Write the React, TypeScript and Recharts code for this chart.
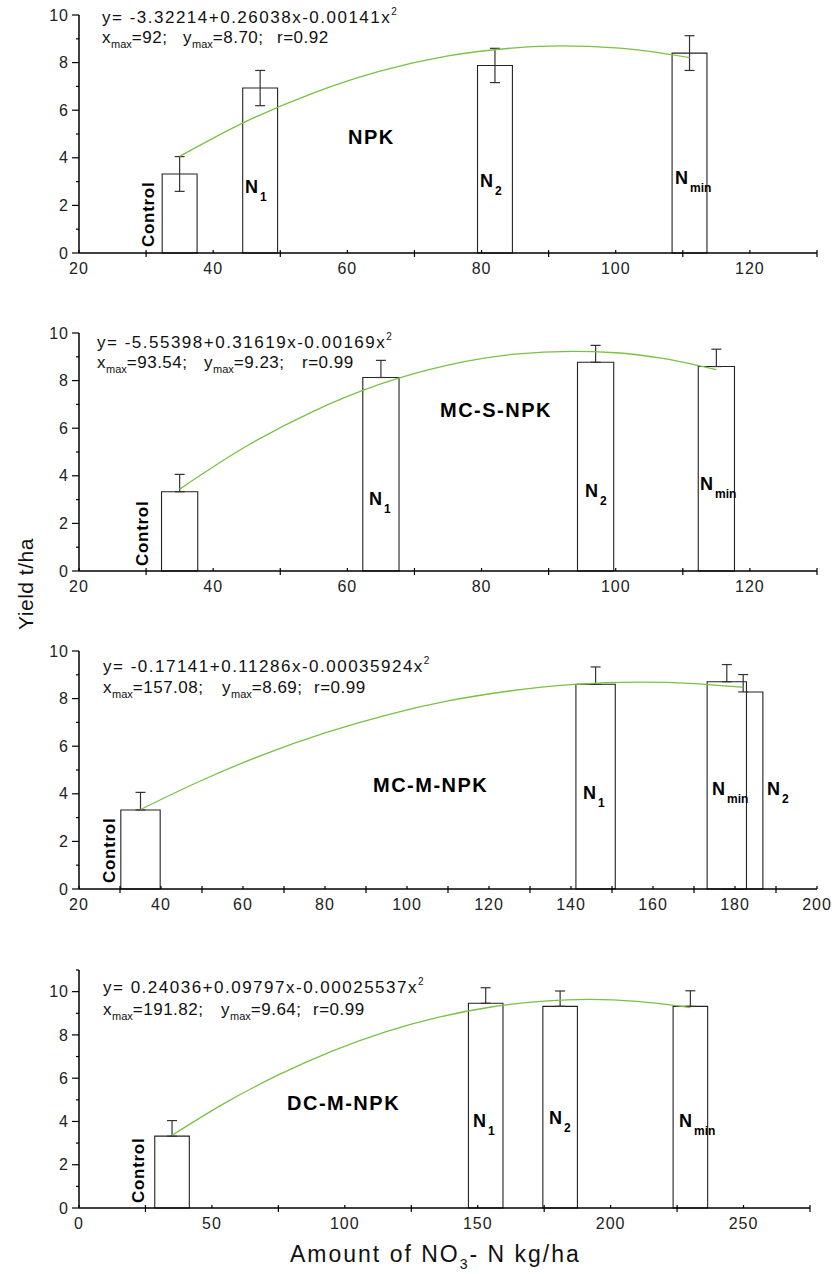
import React from 'react';
import { ComposedChart, XAxis, YAxis, ReferenceArea, Scatter, ErrorBar, Line } from 'recharts';

// NPK
const npkX = [35, 47, 82, 111];
const npkYield = [3.32, 6.93, 7.88, 8.4];
const npkErr = [0.73, 0.74, 0.72, 0.73];
const npkFitX = [35, 45, 55, 65, 75, 85, 92, 100, 105, 111];
const npkFitY = [4.06, 5.54, 6.73, 7.65, 8.28, 8.62, 8.7, 8.62, 8.47, 8.21];

// MC-S-NPK
const mcsX = [35, 65, 97, 115];
const mcsYield = [3.33, 8.13, 8.77, 8.59];
const mcsErr = [0.73, 0.72, 0.71, 0.73];
const mcsFitX = [35, 45, 55, 65, 75, 85, 93.5, 100, 107, 115];
const mcsFitY = [3.44, 5.25, 6.72, 7.86, 8.65, 9.11, 9.23, 9.17, 8.93, 8.46];

// MC-M-NPK (N2 comes before Nmin so Nmin is drawn over it)
const mcmX = [35, 146, 182, 178];
const mcmYield = [3.32, 8.6, 8.28, 8.71];
const mcmErr = [0.74, 0.73, 0.73, 0.72];
const mcmFitX = [35, 50, 65, 80, 95, 110, 125, 140, 157, 170, 182];
const mcmFitY = [3.34, 4.57, 5.65, 6.56, 7.31, 7.9, 8.32, 8.59, 8.69, 8.63, 8.47];

// DC-M-NPK
const dcmX = [35, 153, 181, 230];
const dcmYield = [3.32, 9.46, 9.32, 9.32];
const dcmErr = [0.72, 0.72, 0.71, 0.72];
const dcmFitX = [35, 55, 75, 95, 115, 135, 155, 175, 192, 210, 230];
const dcmFitY = [3.36, 4.86, 6.15, 7.24, 8.13, 8.81, 9.29, 9.56, 9.64, 9.55, 9.26];

// tick labels
const ticks20to130 = [20, 30, 40, 50, 60, 70, 80, 90, 100, 110, 120, 130];
const labels20to120 = [20, 40, 60, 80, 100, 120];
const ticks20to200 = [20, 30, 40, 50, 60, 70, 80, 90, 100, 110, 120, 130, 140, 150, 160, 170, 180, 190, 200];
const labels20to200 = [20, 40, 60, 80, 100, 120, 140, 160, 180, 200];
const ticks0to275 = [0, 25, 50, 75, 100, 125, 150, 175, 200, 225, 250, 275];
const labels0to250 = [0, 50, 100, 150, 200, 250];
const yTicks10 = [0, 1, 2, 3, 4, 5, 6, 7, 8, 9, 10];
const yTicks11 = [0, 1, 2, 3, 4, 5, 6, 7, 8, 9, 10, 11];
const yLabels = [0, 2, 4, 6, 8, 10];

// texts
const treatments = ['NPK', 'MC-S-NPK', 'MC-M-NPK', 'DC-M-NPK'];
const equations = [
  'y= -3.32214+0.26038x-0.00141x',
  'y= -5.55398+0.31619x-0.00169x',
  'y= -0.17141+0.11286x-0.00035924x',
  'y= 0.24036+0.09797x-0.00025537x',
];
const xMaxVals = ['92', '93.54', '157.08', '191.82'];
const yMaxVals = ['8.70', '9.23', '8.69', '9.64'];
const rVals = ['0.92', '0.99', '0.99', '0.99'];

const FONT = '"Liberation Sans", Arial, sans-serif';
const FIT_GREEN = '#7ac143';

const panels = [
  {
    xs: npkX, ys: npkYield, errs: npkErr, fitX: npkFitX, fitY: npkFitY, twoSided: true,
    domain: [20, 130], xTicks: ticks20to130, xLabels: labels20to120, yMax: 10, yTicks: yTicks10,
    barW: 5.2, top: 0, plotTop: 15, plotBottom: 253, plotRight: 817,
    eq: { x: 102, y1: 23, y2: 43, yX: 183, rX: 277 }, title: { x: 348, y: 144 }, control: { x: 154, y: 247 },
    nPos: [[245, 193], [480, 187], [675, 184]],
  },
  {
    xs: mcsX, ys: mcsYield, errs: mcsErr, fitX: mcsFitX, fitY: mcsFitY, twoSided: false,
    domain: [20, 130], xTicks: ticks20to130, xLabels: labels20to120, yMax: 10, yTicks: yTicks10,
    barW: 5.4, top: 300, plotTop: 333, plotBottom: 571, plotRight: 817,
    eq: { x: 97, y1: 348, y2: 368, yX: 204, rX: 302 }, title: { x: 440, y: 417 }, control: { x: 148, y: 566 },
    nPos: [[369, 505], [585, 497], [700, 490]],
  },
  {
    xs: mcmX, ys: mcmYield, errs: mcmErr, fitX: mcmFitX, fitY: mcmFitY, twoSided: false,
    domain: [20, 200], xTicks: ticks20to200, xLabels: labels20to200, yMax: 10, yTicks: yTicks10,
    barW: 9.6, top: 620, plotTop: 651, plotBottom: 889, plotRight: 817,
    eq: { x: 103, y1: 672, y2: 693, yX: 222, rX: 314 }, title: { x: 373, y: 792 }, control: { x: 115, y: 883 },
    nPos: [[583, 799], [767, 795], [712, 795]],
  },
  {
    xs: dcmX, ys: dcmYield, errs: dcmErr, fitX: dcmFitX, fitY: dcmFitY, twoSided: false,
    domain: [0, 275], xTicks: ticks0to275, xLabels: labels0to250, yMax: 11, yTicks: yTicks11,
    barW: 13, top: 940, plotTop: 970, plotBottom: 1208, plotRight: 810,
    eq: { x: 103, y1: 993, y2: 1015, yX: 221, rX: 313 }, title: { x: 287, y: 1110 }, control: { x: 144, y: 1203 },
    nPos: [[473, 1127], [549, 1124], [679, 1127]],
  },
];

const XTick = (props: any) => {
  const { x, y, payload, labels } = props;
  const major = labels.includes(payload.value);
  return (
    <g>
      {major ? (
        <line x1={x} y1={y} x2={x} y2={y - 3} stroke="#000" strokeWidth={1.2} />
      ) : (
        <line x1={x} y1={y - 3} x2={x} y2={y + 4} stroke="#000" strokeWidth={1.2} />
      )}
      {major && (
        <text x={x} y={y + 21} textAnchor="middle" fontSize={16} letterSpacing={1} fill="#222" fontFamily={FONT}>
          {payload.value}
        </text>
      )}
    </g>
  );
};

const YTick = (props: any) => {
  const { x, y, payload } = props;
  const major = yLabels.includes(payload.value);
  return (
    <g>
      <line x1={x - (major ? 7 : 3)} y1={y} x2={x} y2={y} stroke="#000" strokeWidth={1.2} />
      {major && (
        <text x={x - 10} y={y} dy="0.35em" textAnchor="end" fontSize={16} letterSpacing={1} fill="#222" fontFamily={FONT}>
          {payload.value}
        </text>
      )}
    </g>
  );
};

const Panel = ({ p }: { p: any }) => {
  const height = p.plotBottom - p.top + 35;
  const errData = p.xs.map((x: number, i: number) => ({
    x,
    y: p.ys[i],
    err: p.twoSided ? [p.errs[i], p.errs[i]] : [0, p.errs[i]],
  }));
  const fitData = p.fitX.map((x: number, i: number) => ({ x, y: p.fitY[i] }));
  return (
    <div style={{ position: 'absolute', left: 0, top: p.top }}>
      <ComposedChart
        width={835}
        height={height}
        margin={{ top: p.plotTop - p.top, right: 835 - p.plotRight, bottom: 5, left: 39 }}
      >
        <XAxis
          type="number"
          dataKey="x"
          domain={p.domain}
          ticks={p.xTicks}
          interval={0}
          allowDataOverflow
          height={30}
          tickSize={0}
          tickMargin={0}
          tickLine={false}
          axisLine={{ stroke: '#000', strokeWidth: 1.5 }}
          tick={(t: any) => <XTick {...t} labels={p.xLabels} />}
        />
        <YAxis
          type="number"
          dataKey="y"
          domain={[0, p.yMax]}
          ticks={p.yTicks}
          interval={0}
          allowDataOverflow
          width={40}
          tickSize={0}
          tickMargin={0}
          tickLine={false}
          axisLine={{ stroke: '#000', strokeWidth: 1.5 }}
          tick={(t: any) => <YTick {...t} />}
        />
        {p.xs.map((x: number, i: number) => (
          <ReferenceArea
            key={i}
            x1={x - p.barW / 2}
            x2={x + p.barW / 2}
            y1={0}
            y2={p.ys[i]}
            fill="#fff"
            fillOpacity={1}
            stroke="#222"
            strokeWidth={1.1}
            ifOverflow="visible"
          />
        ))}
        <Scatter data={errData} dataKey="y" shape={() => <g />} isAnimationActive={false}>
          <ErrorBar dataKey="err" direction="y" width={5} stroke="#333" strokeWidth={1.2} />
        </Scatter>
        <Line
          data={fitData}
          dataKey="y"
          type="monotone"
          stroke={FIT_GREEN}
          strokeWidth={1.3}
          dot={false}
          isAnimationActive={false}
        />
      </ComposedChart>
    </div>
  );
};

const NLabel = ({ x, y, sub }: { x: number; y: number; sub: string }) => (
  <text x={x} y={y} fontSize={18} fontWeight="bold" fill="#000" fontFamily={FONT}>
    N
    <tspan fontSize={12} dx={2} dy={8}>
      {sub}
    </tspan>
  </text>
);

const SubMax = ({ x, y, name, value }: { x: number; y: number; name: string; value: string }) => (
  <text x={x} y={y} fontSize={17} letterSpacing={0.5} fill="#111">
    {name}
    <tspan fontSize={11} letterSpacing={0} dy={5}>
      max
    </tspan>
    <tspan dy={-5}>={value};</tspan>
  </text>
);

const Annotations = () => (
  <svg
    width={835}
    height={1274}
    style={{ position: 'absolute', left: 0, top: 0, pointerEvents: 'none' }}
  >
    {panels.map((p, i) => (
      <g key={i} fontFamily={FONT}>
        <text x={p.eq.x} y={p.eq.y1} fontSize={17} letterSpacing={1.5} fill="#111">
          {equations[i]}
          <tspan fontSize={10} dy={-8}>
            2
          </tspan>
        </text>
        <SubMax x={p.eq.x} y={p.eq.y2} name="x" value={xMaxVals[i]} />
        <SubMax x={p.eq.yX} y={p.eq.y2} name="y" value={yMaxVals[i]} />
        <text x={p.eq.rX} y={p.eq.y2} fontSize={17} letterSpacing={0.5} fill="#111">
          r={rVals[i]}
        </text>
        <text x={p.title.x} y={p.title.y} fontSize={20} fontWeight="bold" letterSpacing={1.5} fill="#000">
          {treatments[i]}
        </text>
        <text
          transform={`translate(${p.control.x},${p.control.y}) rotate(-90)`}
          fontSize={17}
          fontWeight="bold"
          letterSpacing={0.7}
          fill="#000"
        >
          Control
        </text>
        <NLabel x={p.nPos[0][0]} y={p.nPos[0][1]} sub="1" />
        <NLabel x={p.nPos[1][0]} y={p.nPos[1][1]} sub="2" />
        <NLabel x={p.nPos[2][0]} y={p.nPos[2][1]} sub="min" />
      </g>
    ))}
    <text
      transform="translate(33,584) rotate(-90)"
      textAnchor="middle"
      fontSize={21}
      letterSpacing={0.5}
      fontFamily={FONT}
      fill="#111"
    >
      Yield t/ha
    </text>
    <text x={290} y={1262} fontSize={23} letterSpacing={2} fontFamily={FONT} fill="#111">
      Amount of NO
      <tspan fontSize={14} dy={7}>
        3
      </tspan>
      <tspan dy={-7}>- N kg/ha</tspan>
    </text>
  </svg>
);

export default function App() {
  return (
    <div style={{ position: 'absolute', left: 0, top: 0, width: 835, height: 1274, background: '#fff' }}>
      {panels.map((p, i) => (
        <Panel key={i} p={p} />
      ))}
      <Annotations />
    </div>
  );
}
